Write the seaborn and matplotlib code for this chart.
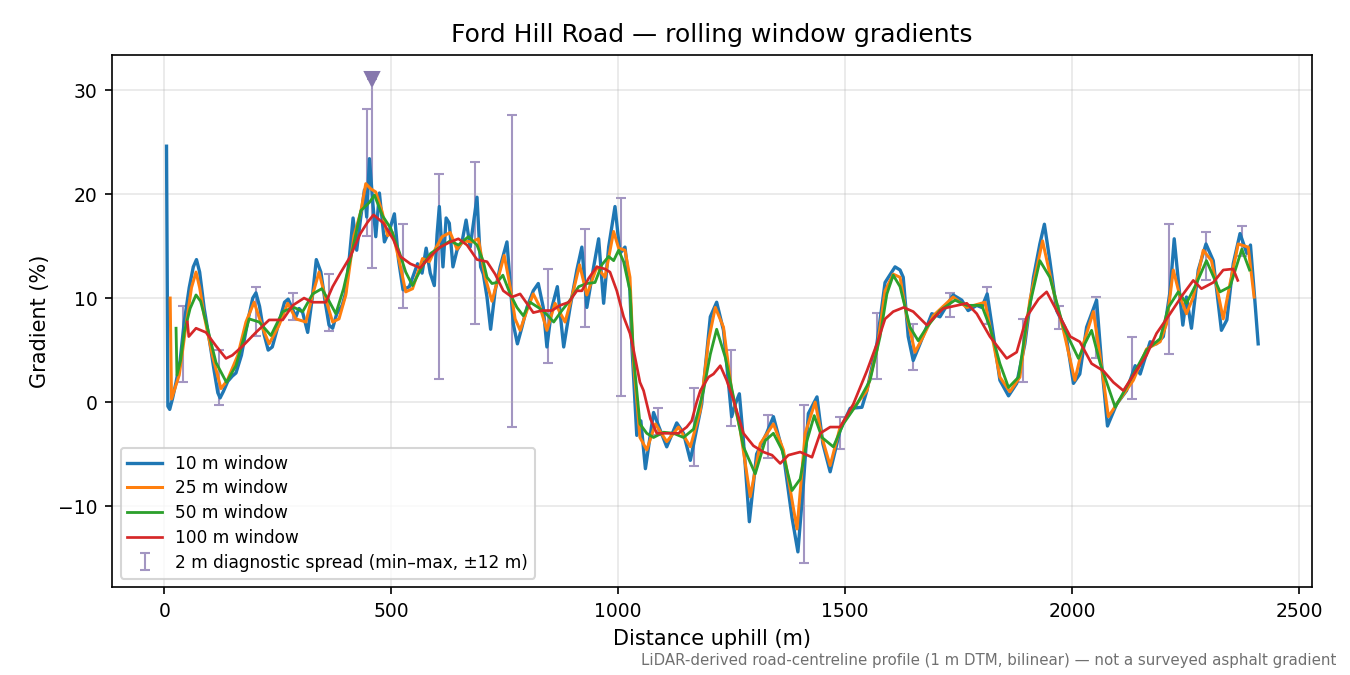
# Ford Hill Road gradient profile: rolling window gradients + 2 m spread bars.

import numpy as np
import pandas as pd
import matplotlib
matplotlib.use("Agg")
import matplotlib.pyplot as plt
import seaborn as sns

# --- Data ---
DIST_10 = [5, 8, 12, 18, 26, 35, 44, 55, 64, 71, 78, 88, 99, 110, 118, 123, 130, 140, 150, 158,
           170, 185, 195, 202, 210, 220, 229, 238, 253, 265, 273, 282, 290, 297, 305, 316, 326,
           335, 345, 355, 363, 371, 380, 392, 399, 408, 416, 424, 433, 441, 446, 452, 459, 466,
           474, 485, 496, 507, 516, 526, 540, 558, 568, 577, 586, 595, 601, 606, 614, 621, 628,
           636, 645, 656, 665, 674, 689, 697, 703, 711, 719, 729, 740, 755, 762, 769, 778, 788,
           799, 813, 824, 835, 843, 854, 866, 880, 894, 909, 920, 931, 946, 957, 968, 979, 993,
           1004, 1015, 1026, 1030, 1041, 1050, 1060, 1078, 1090, 1107, 1129, 1144, 1159, 1184,
           1203, 1217, 1232, 1250, 1258, 1267, 1276, 1289, 1305, 1327, 1342, 1364, 1383, 1396,
           1408, 1419, 1438, 1451, 1467, 1489, 1511, 1537, 1548, 1570, 1588, 1610, 1621, 1628,
           1639, 1650, 1665, 1691, 1709, 1738, 1757, 1771, 1790, 1801, 1813, 1827, 1841, 1860,
           1878, 1896, 1915, 1929, 1939, 1951, 1966, 1984, 2003, 2017, 2032, 2054, 2065, 2078,
           2098, 2120, 2139, 2150, 2172, 2186, 2201, 2216, 2225, 2234, 2244, 2252, 2263, 2278,
           2295, 2311, 2329, 2341, 2355, 2370, 2385, 2393, 2401, 2410]
GRAD_10 = [24.6, -0.4, -0.7, 0.3, 1.9, 4.0, 7.7, 11.0, 13.0, 13.7, 12.5, 9.0, 6.1, 3.0, 0.9, 0.4,
           1.0, 2.0, 2.5, 2.8, 4.5, 8.0, 10.0, 10.5, 9.2, 6.5, 5.0, 5.3, 7.7, 9.6, 9.9, 9.0, 8.2,
           9.0, 8.6, 6.7, 10.0, 13.7, 12.5, 9.5, 7.4, 7.1, 8.5, 9.3, 10.4, 14.0, 17.7, 14.6,
           17.8, 20.4, 17.8, 23.4, 19.4, 15.9, 20.1, 15.4, 16.5, 18.1, 13.7, 10.8, 11.1, 13.3,
           12.4, 14.8, 12.4, 11.2, 16.1, 18.8, 13.0, 17.7, 17.2, 13.0, 14.6, 15.4, 17.5, 14.9,
           19.7, 13.0, 12.3, 10.1, 7.0, 10.7, 13.0, 15.4, 11.4, 7.5, 5.6, 7.2, 9.1, 10.7, 11.4,
           9.1, 5.3, 9.1, 11.1, 5.3, 9.1, 12.7, 14.9, 9.1, 13.0, 15.7, 9.5, 14.9, 18.8, 14.3,
           14.9, 10.7, 5.6, -3.2, -1.8, -6.4, -1.0, -2.4, -4.3, -2.0, -3.0, -5.6, -0.2, 8.2,
           9.6, 6.9, -1.4, -0.2, 0.8, -3.7, -11.5, -5.0, -3.0, -1.4, -5.0, -11.1, -14.4, -7.9,
           -1.1, 0.5, -4.0, -6.7, -2.7, -0.6, -0.5, 1.1, 5.6, 11.5, 13.0, 12.7, 12.0, 6.3, 4.0,
           5.6, 8.5, 8.2, 10.3, 9.8, 8.8, 9.3, 9.1, 10.4, 6.3, 2.1, 0.6, 1.8, 5.6, 12.0, 15.2,
           17.1, 13.6, 8.8, 7.2, 1.8, 2.7, 7.2, 9.8, 3.7, -2.3, -0.2, 1.1, 3.5, 2.7, 5.8, 5.6,
           6.3, 10.7, 15.7, 11.7, 7.4, 10.1, 7.1, 12.7, 15.2, 13.6, 6.9, 7.9, 13.3, 16.2, 14.3,
           15.1, 10.7, 5.6]

DIST_25 = [13, 16, 25, 33, 49, 60, 70, 78, 88, 106, 125, 139, 162, 180, 198, 217, 231, 253, 272,
           290, 312, 328, 341, 355, 371, 385, 400, 418, 433, 444, 455, 466, 480, 492, 503, 518,
           532, 547, 569, 584, 597, 612, 630, 645, 659, 678, 692, 707, 722, 736, 749, 762, 773,
           784, 799, 813, 828, 843, 861, 883, 898, 915, 931, 953, 971, 990, 1001, 1015, 1026,
           1034, 1048, 1063, 1082, 1107, 1133, 1159, 1181, 1199, 1214, 1232, 1250, 1269, 1291,
           1313, 1342, 1364, 1394, 1412, 1434, 1449, 1467, 1489, 1518, 1548, 1570, 1588, 1606,
           1621, 1636, 1654, 1672, 1694, 1738, 1768, 1808, 1827, 1841, 1863, 1885, 1907, 1935,
           1959, 1981, 2006, 2025, 2047, 2065, 2080, 2106, 2135, 2164, 2194, 2208, 2223, 2238,
           2252, 2267, 2289, 2307, 2333, 2348, 2366, 2388, 2401]
GRAD_25 = [10.0, 0.3, 1.5, 2.6, 7.7, 11.0, 12.5, 11.0, 8.3, 4.5, 1.3, 2.1, 4.5, 7.7, 9.6, 7.1, 5.6,
           7.4, 9.5, 8.0, 7.7, 10.5, 12.5, 10.0, 7.7, 8.0, 10.3, 16.0, 18.3, 21.0, 20.5, 20.2,
           18.3, 16.0, 16.3, 13.5, 10.6, 10.9, 13.8, 13.5, 14.7, 15.9, 16.3, 14.7, 15.5, 15.4,
           15.7, 12.0, 9.7, 12.0, 14.1, 11.1, 8.0, 6.9, 8.8, 10.4, 9.1, 6.9, 9.5, 7.7, 10.1,
           13.2, 10.3, 13.0, 12.0, 16.4, 14.8, 14.6, 12.0, 3.7, -3.4, -4.6, -2.1, -3.8, -2.4,
           -4.3, -0.8, 5.9, 9.1, 7.2, 1.1, -2.7, -9.1, -4.0, -2.1, -4.6, -12.2, -3.0, 0.0, -3.4,
           -6.1, -2.4, -0.6, 1.1, 5.0, 10.7, 12.3, 12.0, 8.2, 4.8, 6.3, 8.3, 10.1, 9.1, 9.6, 5.6,
           2.4, 1.0, 2.4, 9.8, 15.5, 10.7, 6.9, 2.1, 5.6, 8.7, 3.4, -1.4, 0.3, 2.1, 5.1, 5.8,
           7.5, 12.7, 10.1, 8.5, 10.1, 14.6, 13.6, 8.0, 11.4, 15.2, 14.9, 10.1]

DIST_50 = [26, 28, 36, 44, 57, 70, 80, 92, 114, 137, 158, 187, 209, 235, 261, 286, 305, 327, 347,
           362, 378, 395, 415, 433, 452, 463, 481, 499, 518, 532, 547, 569, 587, 608, 630, 648,
           670, 689, 703, 711, 722, 733, 746, 762, 777, 791, 806, 824, 839, 858, 876, 894, 913,
           931, 949, 964, 979, 990, 1001, 1012, 1026, 1034, 1048, 1063, 1078, 1100, 1122, 1144,
           1166, 1188, 1203, 1217, 1236, 1254, 1276, 1302, 1324, 1342, 1361, 1383, 1401, 1416,
           1432, 1449, 1474, 1496, 1526, 1555, 1577, 1592, 1606, 1621, 1643, 1661, 1680, 1709,
           1742, 1768, 1801, 1819, 1841, 1860, 1882, 1904, 1929, 1951, 1981, 2014, 2028, 2043,
           2062, 2095, 2128, 2164, 2194, 2212, 2234, 2252, 2274, 2296, 2326, 2348, 2374, 2391]
GRAD_50 = [7.1, 2.6, 4.0, 6.7, 9.0, 10.3, 9.7, 7.7, 3.8, 1.9, 3.5, 8.0, 7.7, 6.4, 8.7, 9.1, 8.7,
           10.4, 10.9, 9.8, 8.5, 10.9, 14.7, 18.4, 19.2, 19.9, 17.9, 16.7, 14.4, 12.5, 11.2,
           13.1, 14.3, 14.9, 15.5, 15.1, 15.9, 15.1, 13.5, 12.0, 11.4, 11.5, 12.2, 10.4, 9.1,
           8.3, 9.6, 9.1, 8.6, 7.7, 8.8, 9.8, 11.1, 11.4, 11.5, 13.2, 14.0, 13.6, 14.6, 13.5,
           10.7, 4.3, -2.1, -3.0, -3.4, -2.9, -3.0, -3.4, -2.6, 1.1, 4.6, 7.0, 4.3, 0.5, -4.3,
           -6.9, -3.7, -3.0, -4.6, -8.5, -7.4, -3.7, -1.3, -3.4, -4.3, -2.1, -0.2, 2.1, 6.3,
           10.4, 12.2, 11.1, 7.2, 5.9, 7.2, 8.8, 9.8, 9.3, 9.3, 7.2, 3.7, 1.4, 2.4, 8.8, 13.6,
           12.0, 7.2, 4.2, 5.6, 6.9, 3.7, -0.5, 2.1, 5.0, 6.1, 9.1, 10.6, 9.5, 11.4, 13.6, 10.6,
           11.1, 14.7, 12.7]

DIST_100 = [51, 54, 70, 92, 114, 136, 150, 173, 202, 231, 261, 283, 308, 327, 356, 371, 388, 410,
            432, 448, 461, 483, 505, 520, 542, 564, 586, 608, 630, 648, 667, 689, 711, 729, 747,
            766, 784, 802, 813, 832, 854, 872, 891, 909, 920, 935, 953, 971, 982, 997, 1012,
            1026, 1034, 1048, 1056, 1071, 1085, 1107, 1133, 1151, 1162, 1173, 1181, 1199, 1210,
            1225, 1239, 1254, 1276, 1298, 1320, 1339, 1357, 1375, 1401, 1427, 1445, 1467, 1489,
            1518, 1548, 1570, 1588, 1606, 1629, 1650, 1680, 1716, 1768, 1790, 1819, 1856, 1878,
            1900, 1926, 1944, 1966, 1996, 2017, 2043, 2069, 2091, 2113, 2135, 2164, 2186, 2216,
            2245, 2267, 2285, 2311, 2333, 2355, 2365]
GRAD_100 = [7.7, 6.3, 7.1, 6.7, 5.4, 4.2, 4.5, 5.4, 6.7, 7.9, 7.9, 9.3, 10.0, 9.6, 9.6, 11.1, 12.4,
            14.0, 16.2, 17.3, 18.0, 17.2, 15.6, 14.0, 13.3, 12.9, 14.0, 14.9, 15.4, 15.7, 15.1,
            13.7, 13.5, 12.3, 10.7, 10.1, 10.4, 9.3, 8.6, 8.8, 8.8, 9.3, 9.6, 10.7, 10.7, 11.9,
            13.0, 12.8, 12.5, 10.7, 8.2, 6.6, 5.0, 1.9, 1.1, -1.6, -3.0, -3.0, -3.0, -2.4, -1.8,
            0.0, 1.1, 2.4, 2.7, 3.5, 2.1, 0.2, -3.0, -4.2, -4.8, -5.1, -5.9, -5.1, -4.8, -5.3,
            -3.0, -2.4, -2.4, -0.2, 3.0, 5.6, 8.0, 8.7, 9.1, 8.7, 7.4, 9.0, 9.5, 8.5, 6.3, 4.2,
            4.8, 8.2, 9.9, 10.6, 8.8, 6.3, 5.8, 3.7, 3.0, 1.9, 1.1, 2.6, 4.5, 6.6, 8.5, 10.4,
            11.7, 10.9, 11.5, 12.7, 12.8, 11.7]

# 2 m diagnostic spread (min/max of 2 m gradients within +-12 m)
SPREAD_X = [42, 121, 203, 283, 363, 446, 525, 606, 685, 766, 845, 927, 1007, 1087, 1168, 1249,
            1329, 1410, 1489, 1570, 1650, 1731, 1812, 1891, 1972, 2053, 2133, 2213, 2295, 2374]
SPREAD_LO = [1.9, -0.3, 6.4, 7.9, 6.8, 16.0, 9.0, 2.2, 7.5, -2.4, 3.8, 7.2, 0.6, -3.2, -6.1, -2.3,
             -5.4, -15.5, -4.5, 2.2, 3.1, 8.2, 7.5, 1.9, 7.0, 4.2, 0.3, 4.6, 11.7, 14.0]
SPREAD_HI = [9.2, 5.0, 11.1, 10.5, 12.3, 28.2, 17.1, 21.9, 23.1, 27.6, 12.8, 16.6, 19.6, -0.6, 1.4,
             5.0, -1.2, -0.3, -1.4, 8.6, 7.5, 10.5, 11.1, 8.0, 9.2, 10.1, 6.3, 17.1, 16.4, 16.9]

# spread bar whose max runs off the top of the axis
CLIP_X = [457]
CLIP_LO = [12.9]
CLIP_HI = [31.1]

WINDOWS = ["10 m window", "25 m window", "50 m window", "100 m window"]
COLORS = ["#1f77b4", "#ff7f0e", "#2ca02c", "#d62728"]
WIDTHS = [1.6, 1.45, 1.35, 1.3]
SPREAD_COLOR = "#a396c2"
CLIP_COLOR = "#8677ad"


def main():
    fig, ax = plt.subplots(figsize=(9, 4.5), dpi=150)
    fig.subplots_adjust(left=0.083, right=0.972, top=0.919, bottom=0.130)

    # spread bars (drawn first, under the lines)
    lo = np.array(SPREAD_LO)
    hi = np.array(SPREAD_HI)
    mid = (lo + hi) / 2
    ax.errorbar(SPREAD_X, mid, yerr=(hi - lo) / 2, fmt="none", ecolor=SPREAD_COLOR,
                elinewidth=1.0, capsize=2.5, capthick=1.0, zorder=1,
                label="2 m diagnostic spread (min\u2013max, \u00b112 m)")
    clo = np.array(CLIP_LO)
    chi = np.array(CLIP_HI)
    ax.errorbar(CLIP_X, chi, yerr=[chi - clo, np.zeros_like(chi)],
                fmt="none", ecolor=SPREAD_COLOR, elinewidth=1.0, capsize=2.5, capthick=1.0,
                zorder=1)
    ax.plot(CLIP_X, CLIP_HI, linestyle="none", marker="v", markersize=7,
            color=CLIP_COLOR, zorder=3)

    series = [(DIST_10, GRAD_10), (DIST_25, GRAD_25), (DIST_50, GRAD_50), (DIST_100, GRAD_100)]
    for (dist, grad), name, col, lw in zip(series, WINDOWS, COLORS, WIDTHS):
        df = pd.DataFrame({"distance": dist, "gradient": grad})
        sns.lineplot(data=df, x="distance", y="gradient", ax=ax, color=col, linewidth=lw,
                     label=name, estimator=None, errorbar=None, sort=False, zorder=2)

    ax.set_xlim(-115, 2529)
    ax.set_ylim(-17.8, 33.4)
    ax.set_xticks([0, 500, 1000, 1500, 2000, 2500])
    ax.grid(True, color="#b0b0b0", alpha=0.3, linewidth=0.8)
    ax.tick_params(labelsize=9)

    ax.set_title("Ford Hill Road \u2014 rolling window gradients", fontsize=12)
    ax.set_xlabel("Distance uphill (m)", fontsize=10)
    ax.set_ylabel("Gradient (%)", fontsize=10)
    ax.legend(loc="lower left", fontsize=8.2, labelspacing=0.4)

    fig.text(0.99, 0.022,
             "LiDAR-derived road-centreline profile (1 m DTM, bilinear) \u2014 not a surveyed asphalt gradient",
             ha="right", va="center", fontsize=7.2, color="#707070")

    fig.savefig("out.png", dpi=150)
    plt.close(fig)


if __name__ == "__main__":
    main()
